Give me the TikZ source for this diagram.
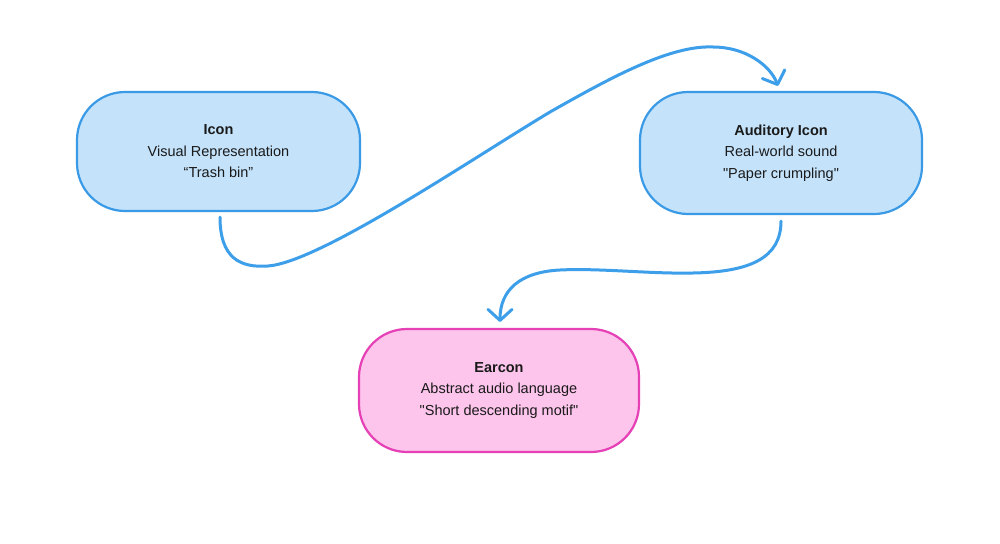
\documentclass[tikz,border=0pt]{standalone}
\usepackage{fontspec}
\setmainfont{Liberation Sans}[Ligatures=TeXOff]
\usetikzlibrary{arrows.meta,calc}
\definecolor{bluefill}{HTML}{C4E3FB}
\definecolor{blueline}{HTML}{3A9AE6}
\definecolor{pinkfill}{HTML}{FDC4EC}
\definecolor{pinkline}{HTML}{E540B5}
\definecolor{arrowcol}{HTML}{3D9FEA}
\definecolor{txt}{HTML}{1A1A1A}
\begin{document}
\begin{tikzpicture}[x=1pt,y=-1pt,
  pill/.style={rounded corners=48pt, line width=2.2pt, align=center, text=txt,
    font=\fontsize{14.5}{21.5}\selectfont, inner sep=0pt},
  bluepill/.style={pill, draw=blueline, fill=bluefill},
  pinkpill/.style={pill, draw=pinkline, fill=pinkfill},
  conn/.style={draw=arrowcol, line width=3pt, line cap=round,
    -{Straight Barb[length=11pt,width=24pt,round]}}]
\useasboundingbox (0,0) rectangle (1000,543);
\fill[white] (0,0) rectangle (1000,543);
\node[bluepill, minimum width=283pt, minimum height=119pt] (icon) at (218.5,151.5)
  {\textbf{Icon}\\Visual Representation\\“Trash bin”};
\node[bluepill, minimum width=282pt, minimum height=122pt] (aud) at (781,153)
  {\textbf{Auditory Icon}\\Real-world sound\\"Paper crumpling"};
\node[pinkpill, minimum width=280pt, minimum height=123pt] (ear) at (499,390.5)
  {\textbf{Earcon}\\Abstract audio language\\"Short descending motif"};
\coordinate (s1) at ($(icon.south)+(1.5,5)$);
\coordinate (e1) at ($(aud.north)+(-3,-5)$);
\coordinate (s2) at ($(aud.south)+(0,6)$);
\coordinate (e2) at ($(ear.north)+(1,-6)$);
\draw[conn] (s1) .. controls (220,258) and (240,268) .. (268,266)
  .. controls (320,262) and (470,160) .. (550,112)
  .. controls (610,78) and (670,45) .. (713,47)
  .. controls (745,47) and (770,65) .. (e1);
\draw[conn] (s2) .. controls (781,258) and (750,272) .. (693,273)
  .. controls (650,274) and (600,268) .. (560,270)
  .. controls (520,272) and (500,290) .. (e2);
\end{tikzpicture}
\end{document}
